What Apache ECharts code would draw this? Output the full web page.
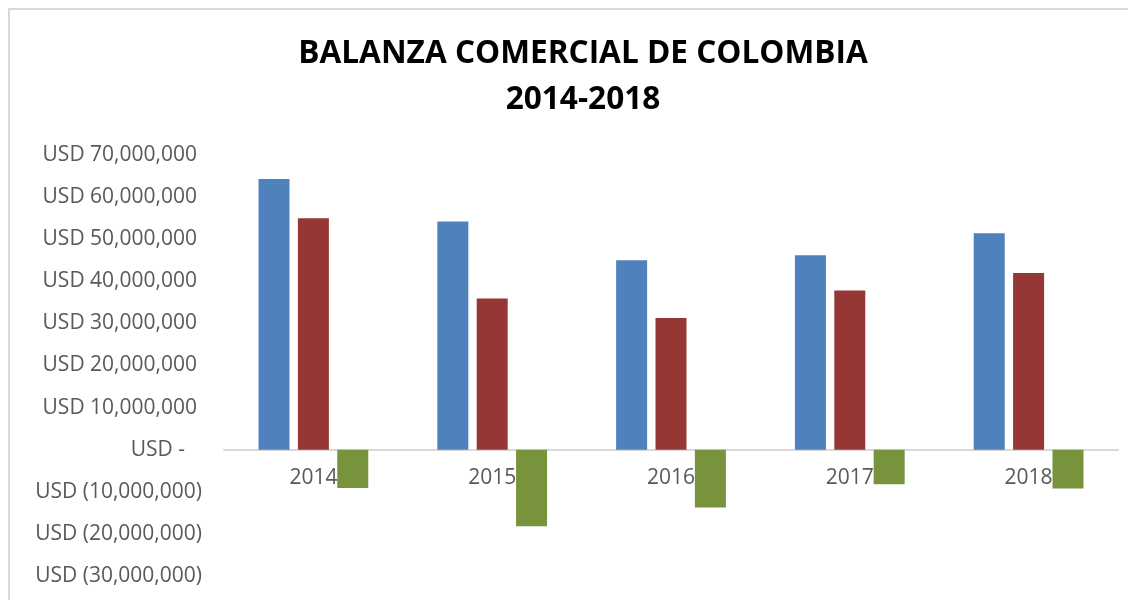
<!DOCTYPE html>
<html>
<head>
<meta charset="utf-8">
<script src="https://cdn.jsdelivr.net/npm/echarts@6/dist/echarts.min.js"></script>
<style>
html,body{margin:0;padding:0;background:#fff;}
#c{width:1128px;height:600px;}
</style>
</head>
<body>
<div id="c"></div>
<script>
const titleText = 'BALANZA COMERCIAL DE COLOMBIA\n2014-2018';
const categories = ['2014', '2015', '2016', '2017', '2018'];
const importaciones = [64300000, 54200000, 45000000, 46200000, 51400000];
const exportaciones = [55000000, 35900000, 31300000, 37800000, 42000000];
const balanza = [-9100000, -18200000, -13700000, -8200000, -9200000];
const yMin = -30000000, yMax = 70000000, yStep = 10000000;

const labelFont = "'Open Sans', 'Noto Sans', sans-serif";
const labelColor = '#595959';
const labelSize = 21;

function fmtY(v) {
  if (v === 0) return '{z|USD -}';
  const a = Math.abs(v).toLocaleString('en-US');
  return v < 0 ? '{n|USD (' + a + ')}' : '{p|USD ' + a + '}';
}

const gridTop = 155, gridBottom = 24, chartH = 600;
const plotH = chartH - gridTop - gridBottom;
// distance of the zero line above the grid's bottom edge, from the axis scale
const zeroOffset = plotH * (0 - yMin) / (yMax - yMin);

const chart = echarts.init(document.getElementById('c'));
const rs = {fontSize: labelSize, color: labelColor, fontFamily: labelFont};
chart.setOption({
  animation: false,
  backgroundColor: '#fff',
  title: {
    text: titleText,
    left: 578,
    top: 26,
    textAlign: 'center',
    textStyle: {
      fontFamily: "'Open Sans', sans-serif",
      fontWeight: 'bold',
      fontSize: 31.6,
      lineHeight: 46,
      color: '#000'
    }
  },
  graphic: [{
    type: 'rect',
    shape: {x: 9, y: 9, width: 1300, height: 800},
    style: {fill: 'none', stroke: '#D9D9D9', lineWidth: 2},
    silent: true, z: -1
  }],
  grid: {left: 224, right: 10, top: gridTop, bottom: gridBottom, containLabel: false, outerBoundsMode: 'none'},
  xAxis: {
    type: 'category',
    data: categories,
    offset: -zeroOffset,
    axisLine: {onZero: false, lineStyle: {color: '#D9D9D9', width: 2}},
    axisTick: {show: false},
    axisLabel: {color: labelColor, fontSize: labelSize, fontFamily: labelFont, margin: 18},
    splitLine: {show: false}
  },
  yAxis: {
    type: 'value',
    min: yMin, max: yMax, interval: yStep,
    axisLine: {show: false},
    axisTick: {show: false},
    splitLine: {show: false},
    axisLabel: {
      margin: 22,
      formatter: fmtY,
      rich: {
        p: Object.assign({padding: [0, 5, 0, 0]}, rs),
        n: Object.assign({}, rs),
        z: Object.assign({padding: [0, 17, 0, 0]}, rs)
      }
    }
  },
  series: [
    {name: 'Importaciones', type: 'bar', data: importaciones, barWidth: 31, barGap: '27%',
     itemStyle: {color: '#4F81BD'}},
    {name: 'Exportaciones', type: 'bar', data: exportaciones, barWidth: 31, barGap: '27%',
     itemStyle: {color: '#953735'}},
    {name: 'Balanza', type: 'bar', data: balanza, barWidth: 31, barGap: '27%',
     itemStyle: {color: '#77933C'}}
  ]
});
</script>
</body>
</html>
